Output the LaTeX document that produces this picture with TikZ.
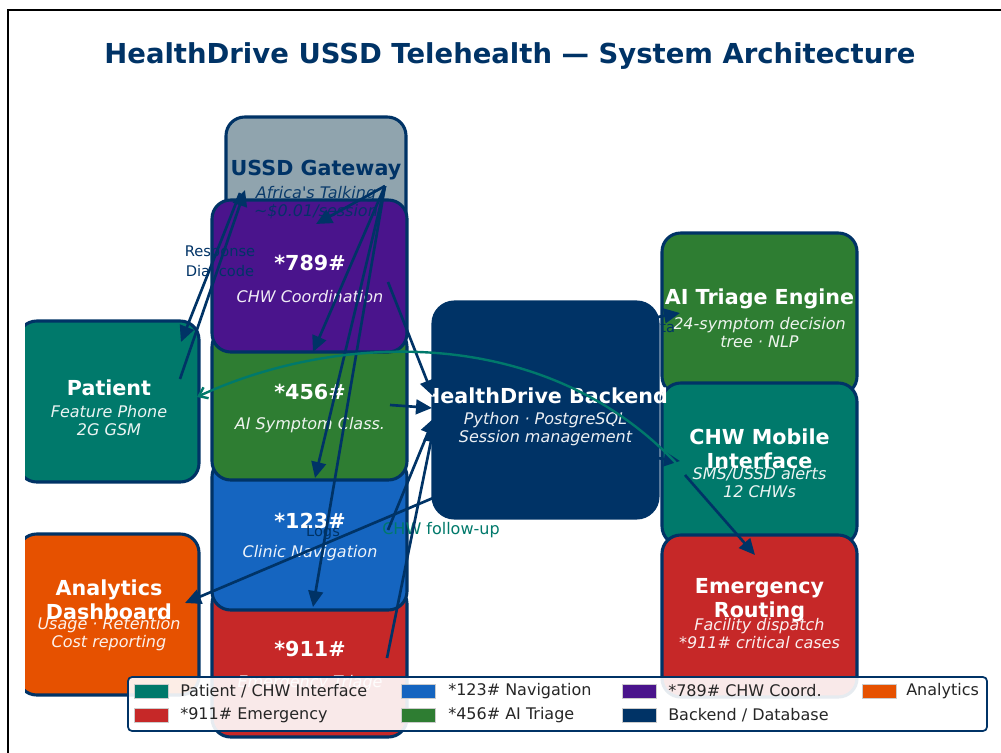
\documentclass[tikz,border=0pt]{standalone}
\usepackage{fontspec}
\setmainfont{DejaVu Sans}
\usetikzlibrary{arrows.meta}

\definecolor{navy}{RGB}{0,51,102}
\definecolor{tealc}{RGB}{0,121,107}
\definecolor{bluec}{RGB}{21,101,192}
\definecolor{purplec}{RGB}{74,20,140}
\definecolor{orangec}{RGB}{230,81,0}
\definecolor{redc}{RGB}{198,40,40}
\definecolor{greenc}{RGB}{46,125,50}
\definecolor{grayc}{RGB}{144,164,174}

\tikzset{
  panel/.style={draw=navy, line width=2.3pt, rounded corners=14pt, inner sep=0pt, outer sep=0pt},
  ttl/.style={font=\fontsize{15.5}{18}\selectfont\bfseries, text=white, align=center, inner sep=0pt},
  sub/.style={font=\fontsize{12}{13.5}\selectfont\itshape, text=white, text opacity=0.92, align=center, inner sep=0pt},
  elabel/.style={font=\fontsize{11}{13}\selectfont, text=navy, inner sep=0pt},
  flow/.style={draw=navy, line width=2pt, -{Triangle[length=12pt,width=11pt]}},
  followup/.style={draw=tealc, line width=1.8pt, -{Straight Barb[length=6pt,width=9pt]}},
  legtext/.style={font=\fontsize{12}{14}\selectfont, text=black!85, anchor=west, inner sep=0pt},
  swatch/.style={draw=white!80!black, line width=0.4pt, minimum width=25.5pt, minimum height=10.5pt, inner sep=0pt},
}

\begin{document}
\begin{tikzpicture}[x=0.75pt, y=-0.75pt]
\useasboundingbox (0,0) rectangle (1001,753);
\clip (0,0) rectangle (1001,753);
\fill[white] (0,0) rectangle (1001,753);

% figure frame
\draw[black, line width=1.5pt] (8,10) rectangle (1010,765);

% title
\node[font=\fontsize{20.6}{24}\selectfont\bfseries, text=navy, inner sep=0pt] (title) at (510,56)
  {HealthDrive USSD Telehealth — System Architecture};

% gateway and USSD menu stack
\node[panel, fill=grayc,   minimum width=135pt,    minimum height=99pt]  (gw)   at (316,183) {};
\node[panel, fill=redc,    minimum width=146.25pt, minimum height=114pt] (m911) at (309.5,661) {};
\node[panel, fill=bluec,   minimum width=146.25pt, minimum height=114pt] (m123) at (309.5,534) {};
\node[panel, fill=greenc,  minimum width=146.25pt, minimum height=114pt] (m456) at (309.5,404) {};
\node[panel, fill=purplec, minimum width=146.25pt, minimum height=114pt] (m789) at (309.5,276) {};

% left column, cut by the axes edge
\begin{scope}
  \clip (25,0) rectangle (1001,753);
  \node[panel, fill=tealc,   minimum width=135.75pt, minimum height=120.75pt] (pat) at (108.5,401.5) {};
  \node[panel, fill=orangec, minimum width=135.75pt, minimum height=120.75pt] (ana) at (108.5,614.5) {};
\end{scope}

% backend and right column
\node[panel, fill=navy, rounded corners=16pt, minimum width=168.75pt, minimum height=162pt] (be) at (545.5,410) {};
\node[panel, fill=greenc, minimum width=146.25pt, minimum height=121.5pt] (tri) at (759.5,314) {};
\node[panel, fill=tealc,  minimum width=146.25pt, minimum height=121.5pt] (chw) at (759.5,464) {};
\node[panel, fill=redc,   minimum width=146.25pt, minimum height=121.5pt] (emr) at (759.5,616) {};

% panel texts
\node[ttl, text=navy] (gwT) at (316,170) {USSD Gateway};
\node[sub, text=navy] (gwS) at (316,203) {Africa\textquotesingle s Talking\\\textasciitilde\$0.01/session};

\node[ttl] (m789T) at (310,263) {*789\#};
\node[sub] (m789S) at (310,297) {CHW Coordination};
\node[ttl] (m456T) at (310,392) {*456\#};
\node[sub] (m456S) at (310,425) {AI Symptom Class.};
\node[ttl] (m123T) at (310,521) {*123\#};
\node[sub] (m123S) at (310,553) {Clinic Navigation};
\node[ttl] (m911T) at (310,649) {*911\#};
\node[sub] (m911S) at (310,683) {Emergency Triage};

\node[ttl] (patT) at (109,388) {Patient};
\node[sub] (patS) at (109,420.5) {Feature Phone\\2G GSM};
\node[ttl] (anaT) at (109,600) {Analytics\\Dashboard};
\node[sub] (anaS) at (109,634) {Usage · Retention\\Cost reporting};

\node[ttl] (beT) at (545.5,396) {HealthDrive Backend};
\node[sub] (beS) at (545.5,429) {Python · PostgreSQL\\Session management};

\node[ttl] (triT) at (759.5,299) {AI Triage Engine};
\node[sub] (triS) at (759.5,333) {24-symptom decision\\tree · NLP};
\node[ttl] (chwT) at (759.5,449) {CHW Mobile\\Interface};
\node[sub] (chwS) at (759.5,483) {SMS/USSD alerts\\12 CHWs};
\node[ttl] (emrT) at (759.5,600) {Emergency\\Routing};
\node[sub] (emrS) at (759.5,634) {Facility dispatch\\*911\# critical cases};

% connector labels
\node[elabel] (lResp) at (220,253) {Response};
\node[elabel] (lDial) at (220,271) {Dial code};
\node[elabel] (lLogs) at (323,533) {Logs};
\node[elabel] (lData) at (621,328) {Symptom data};
\node[elabel, font=\fontsize{12}{14}\selectfont, text=tealc] (lFollow) at (441,530) {CHW follow-up};

% connector end points
\coordinate (patUp)   at (180,379);
\coordinate (gwIn)    at (245,190);
\coordinate (gwOut)   at (240,193);
\coordinate (patIn)   at (181,342);
\coordinate (gwHub)   at (385,186);
\coordinate (m789in)  at (316,224);
\coordinate (m456in)  at (313,352);
\coordinate (m123in)  at (315,478);
\coordinate (m911in)  at (313,607);
\coordinate (m789out) at (388,282);
\coordinate (m456out) at (390,405);
\coordinate (m123out) at (388,530);
\coordinate (m911out) at (387,658);
\coordinate (beIn1)   at (433,396);
\coordinate (beIn2)   at (432,408);
\coordinate (beIn3)   at (434,418);
\coordinate (beIn4)   at (434,426);
\coordinate (beLog)   at (433,498);
\coordinate (anaIn)   at (185,603);
\coordinate (beTri)   at (630,322);
\coordinate (triIn)   at (680,313);
\coordinate (beChw)   at (610,452);
\coordinate (chwIn)   at (680,461);
\coordinate (chwFu)   at (676,463);
\coordinate (patFu)   at (197,397);
\coordinate (chwEm)   at (685,475);
\coordinate (emrIn)   at (755,555);

% patient <-> gateway
\draw[flow] (patUp) -- (gwIn);
\draw[flow] (gwOut) -- (patIn);
% gateway fan-out to the menus
\draw[flow] (gwHub) -- (m789in);
\draw[flow] (gwHub) -- (m456in);
\draw[flow] (gwHub) -- (m123in);
\draw[flow] (gwHub) -- (m911in);
% menus into the backend
\draw[flow] (m789out) -- (beIn1);
\draw[flow] (m456out) -- (beIn2);
\draw[flow] (m123out) -- (beIn3);
\draw[flow] (m911out) -- (beIn4);
% backend outputs
\draw[flow] (beLog) -- (anaIn);
\draw[flow] (beTri) -- (triIn);
\draw[flow] (beChw) -- (chwIn);
\draw[flow] (chwEm) -- (emrIn);
% CHW follow-up back to the patient
\draw[followup] (chwFu) .. controls (540,320) and (330,335) .. (patFu);

% legend
\node[draw=navy, line width=1.3pt, fill=white, fill opacity=0.9, rounded corners=3pt,
      minimum width=644.25pt, minimum height=40.5pt, inner sep=0pt] (legend) at (557.5,704) {};
\node[swatch, fill=tealc]   (sw1) at (151,691) {};
\node[legtext] (lg1) at (180,691) {Patient / CHW Interface};
\node[swatch, fill=redc]    (sw2) at (151,715) {};
\node[legtext] (lg2) at (180,715) {*911\# Emergency};
\node[swatch, fill=bluec]   (sw3) at (418,691) {};
\node[legtext] (lg3) at (448,691) {*123\# Navigation};
\node[swatch, fill=greenc]  (sw4) at (418,715) {};
\node[legtext] (lg4) at (448,715) {*456\# AI Triage};
\node[swatch, fill=purplec] (sw5) at (639,691) {};
\node[legtext] (lg5) at (668,691) {*789\# CHW Coord.};
\node[swatch, fill=navy]    (sw6) at (639,715) {};
\node[legtext] (lg6) at (668,715) {Backend / Database};
\node[swatch, fill=orangec] (sw7) at (879,691) {};
\node[legtext] (lg7) at (906,691) {Analytics};
\end{tikzpicture}
\end{document}
